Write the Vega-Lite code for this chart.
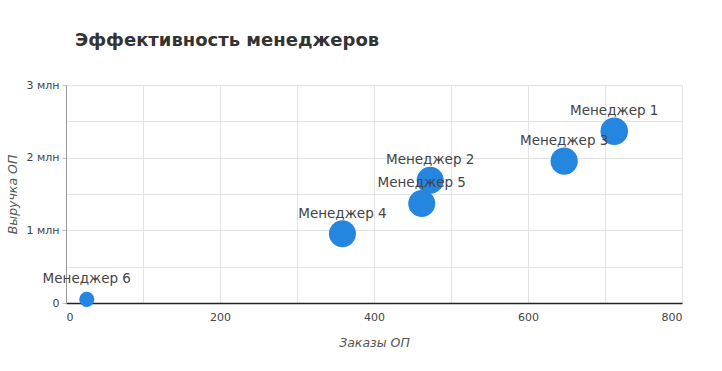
{
  "$schema": "https://vega.github.io/schema/vega-lite/v6.json",
  "autosize": "none",
  "width": 616,
  "height": 218,
  "padding": {"left": 66, "top": 85, "right": 40, "bottom": 68},
  "background": "white",
  "title": {
    "text": "Эффективность менеджеров",
    "anchor": "start",
    "frame": "group",
    "dx": 9,
    "offset": 29,
    "font": "DejaVu Sans",
    "fontSize": 18,
    "fontWeight": "bold",
    "color": "#333333"
  },
  "config": {"view": {"stroke": null}},
  "data": {
    "values": [
      {"Менеджер": "Менеджер 1", "Заказы": 712, "Выручка": 2364000, "Вес": 100},
      {"Менеджер": "Менеджер 2", "Заказы": 473, "Выручка": 1690000, "Вес": 96},
      {"Менеджер": "Менеджер 3", "Заказы": 647, "Выручка": 1953000, "Вес": 98},
      {"Менеджер": "Менеджер 4", "Заказы": 359, "Выручка": 954000, "Вес": 96},
      {"Менеджер": "Менеджер 5", "Заказы": 462, "Выручка": 1370000, "Вес": 96},
      {"Менеджер": "Менеджер 6", "Заказы": 27, "Выручка": 50000, "Вес": 30}
    ]
  },
  "encoding": {
    "x": {
      "field": "Заказы",
      "type": "quantitative",
      "scale": {"domain": [0, 800], "nice": false},
      "axis": {
        "title": "Заказы ОП",
        "titleFont": "DejaVu Sans",
        "titleFontStyle": "italic",
        "titleFontWeight": "normal",
        "titleFontSize": 12.5,
        "titleColor": "#555555",
        "titlePadding": 14,
        "values": [0, 100, 200, 300, 400, 500, 600, 700, 800],
        "labelExpr": "datum.value % 200 == 0 ? datum.label : ''",
        "labelFont": "DejaVu Sans",
        "labelFontSize": 11,
        "labelColor": "#444444",
        "labelPadding": 8,
        "ticks": false,
        "grid": true,
        "gridColor": "#e3e3e3",
        "domainColor": "#222222",
        "domainWidth": 1.5
      }
    },
    "y": {
      "field": "Выручка",
      "type": "quantitative",
      "scale": {"domain": [0, 3000000], "nice": false},
      "axis": {
        "title": "Выручка ОП",
        "titleFont": "DejaVu Sans",
        "titleFontStyle": "italic",
        "titleFontWeight": "normal",
        "titleFontSize": 12.5,
        "titleColor": "#555555",
        "titlePadding": 6,
        "values": [0, 500000, 1000000, 1500000, 2000000, 2500000, 3000000],
        "labelExpr": "datum.value == 0 ? '0' : (datum.value % 1000000 == 0 ? (datum.value / 1000000) + ' млн' : '')",
        "labelFont": "DejaVu Sans",
        "labelFontSize": 11,
        "labelColor": "#444444",
        "labelPadding": 3,
        "tickSize": 4,
        "tickColor": "#bbbbbb",
        "tickOpacity": {"condition": {"test": "datum.value % 1000000 == 0", "value": 1}, "value": 0},
        "grid": true,
        "gridColor": "#e3e3e3",
        "domainColor": "#999999",
        "domainWidth": 1
      }
    }
  },
  "layer": [
    {
      "mark": {"type": "circle", "opacity": 1, "color": "#2586e0"},
      "encoding": {
        "size": {
          "field": "Вес",
          "type": "quantitative",
          "scale": {"domain": [0, 100], "range": [0, 760]},
          "legend": null
        }
      }
    },
    {
      "mark": {
        "type": "text",
        "dy": -20,
        "font": "DejaVu Sans",
        "fontSize": 13.5,
        "color": "#444444",
        "baseline": "middle"
      },
      "encoding": {"text": {"field": "Менеджер"}}
    }
  ]
}
